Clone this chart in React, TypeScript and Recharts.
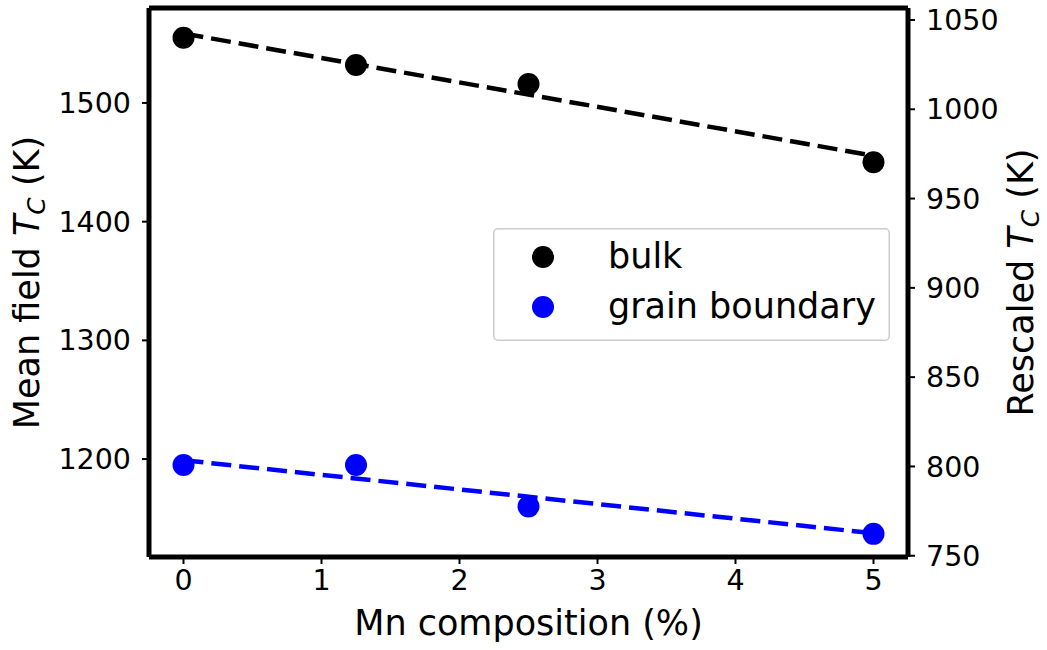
import React from "react";
import {
  ComposedChart,
  Scatter,
  Line,
  XAxis,
  YAxis,
  Legend,
  ReferenceLine,
} from "recharts";

// Mn content (%) of each sample
const mnPct = [0, 1.25, 2.5, 5];
// Mean field Curie temperatures (K)
const bulkTc = [1555, 1532, 1516, 1450];
const gbTc = [1195, 1195, 1160, 1137];

// Linear fit end points
const fitX = [0, 5];
const bulkFit = [1558.5, 1455.5];
const gbFit = [1199, 1137.5];

const xTicks = [0, 1, 2, 3, 4, 5];
const leftTicks = [1200, 1300, 1400, 1500];
const rightTicks = [750, 800, 850, 900, 950, 1000, 1050];

const xDomain: [number, number] = [-0.25, 5.25];
const leftDomain: [number, number] = [1117.5, 1580];
const rightDomain: [number, number] = [749.3, 1056.7];

const BLUE = "#0000ff";
const FONT = "DejaVu Sans";
const LABEL_SIZE = 35;

const toPoints = (xs: number[], ys: number[]) =>
  xs.map((x, i) => ({ x, y: ys[i] }));

const bulkData = toPoints(mnPct, bulkTc);
const gbData = toPoints(mnPct, gbTc);
const bulkFitData = toPoints(fitX, bulkFit);
const gbFitData = toPoints(fitX, gbFit);

const tickStyle = { fontSize: 28.5, fill: "#000", fontFamily: FONT };
const spine = { stroke: "#000", strokeWidth: 5 };
const tickLine = { stroke: "#000", strokeWidth: 2 };

const dot = (color: string) => (props: any) =>
  <circle cx={props.cx} cy={props.cy} r={11} fill={color} />;

// T_C with italic T and subscript C
const TcLabel = ({ x, y, prefix }: { x: number; y: number; prefix: string }) => (
  <text
    x={x}
    y={y}
    textAnchor="middle"
    transform={`rotate(-90, ${x}, ${y})`}
    fontSize={LABEL_SIZE}
    fontFamily={FONT}
    fill="#000"
  >
    <tspan>{prefix}</tspan>
    <tspan fontStyle="italic">T</tspan>
    <tspan fontStyle="italic" fontSize={25} dy={6}>
      C
    </tspan>
    <tspan dy={-6}> (K)</tspan>
  </text>
);

const LegendBox = () => (
  <svg width={397} height={113}>
    <rect
      x={0.75}
      y={0.75}
      width={395.5}
      height={111.5}
      rx={4}
      fill="#fff"
      fillOpacity={0.8}
      stroke="#cccccc"
      strokeWidth={1.5}
    />
    <circle cx={50} cy={29} r={11} fill="#000" />
    <circle cx={50} cy={79} r={11} fill={BLUE} />
    <text x={115} y={40} fontSize={LABEL_SIZE} fontFamily={FONT} fill="#000">
      bulk
    </text>
    <text x={115} y={90} fontSize={LABEL_SIZE} fontFamily={FONT} fill="#000">
      grain boundary
    </text>
  </svg>
);

export default function App() {
  return (
    <div style={{ position: "absolute", left: 0, top: 0 }}>
      <ComposedChart
        width={1047}
        height={650}
        margin={{ top: 8, right: 0, bottom: 0, left: 0 }}
        style={{ fontFamily: FONT }}
      >
        <XAxis
          xAxisId="bottom"
          dataKey="x"
          type="number"
          domain={xDomain}
          ticks={xTicks}
          height={93}
          tick={tickStyle}
          tickSize={7}
          tickMargin={6}
          axisLine={spine}
          tickLine={tickLine}
          allowDataOverflow
        />
        <YAxis
          yAxisId="left"
          type="number"
          domain={leftDomain}
          ticks={leftTicks}
          width={149}
          tick={tickStyle}
          tickSize={7}
          tickMargin={11}
          axisLine={spine}
          tickLine={tickLine}
          allowDataOverflow
        />
        <YAxis
          yAxisId="right"
          orientation="right"
          type="number"
          domain={rightDomain}
          ticks={rightTicks}
          width={139}
          tick={tickStyle}
          tickSize={7}
          tickMargin={11}
          axisLine={spine}
          tickLine={tickLine}
          allowDataOverflow
        />
        {/* top spine of the frame */}
        <ReferenceLine
          y={leftDomain[1]}
          xAxisId="bottom"
          yAxisId="left"
          stroke="#000"
          strokeWidth={5}
        />
        <Scatter
          name="bulk"
          data={bulkData}
          dataKey="y"
          xAxisId="bottom"
          yAxisId="left"
          shape={dot("#000")}
          isAnimationActive={false}
        />
        <Scatter
          name="grain boundary"
          data={gbData}
          dataKey="y"
          xAxisId="bottom"
          yAxisId="left"
          shape={dot(BLUE)}
          isAnimationActive={false}
        />
        <Line
          data={bulkFitData}
          dataKey="y"
          xAxisId="bottom"
          yAxisId="left"
          stroke="#000"
          strokeWidth={4.5}
          strokeDasharray="20 8"
          dot={false}
          activeDot={false}
          isAnimationActive={false}
        />
        <Line
          data={gbFitData}
          dataKey="y"
          xAxisId="bottom"
          yAxisId="left"
          stroke={BLUE}
          strokeWidth={4.5}
          strokeDasharray="20 8"
          dot={false}
          activeDot={false}
          isAnimationActive={false}
        />
        <Legend
          layout="vertical"
          verticalAlign="middle"
          align="center"
          content={() => <LegendBox />}
          wrapperStyle={{ left: 493, top: 228, width: 397, height: 113 }}
        />
        {/* axis titles */}
        <text
          x={528.5}
          y={635}
          textAnchor="middle"
          fontSize={LABEL_SIZE}
          fontFamily={FONT}
          fill="#000"
        >
          Mn composition (%)
        </text>
        <TcLabel x={39} y={282.5} prefix="Mean field " />
        <TcLabel x={1033} y={282.5} prefix="Rescaled " />
      </ComposedChart>
    </div>
  );
}
